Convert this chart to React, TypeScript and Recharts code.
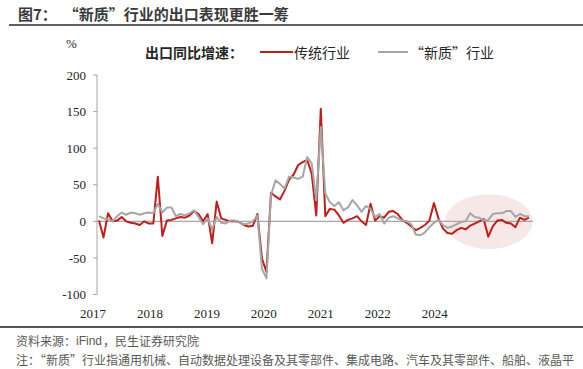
import React from 'react';
import { LineChart, Line, XAxis, YAxis, ReferenceLine, ReferenceArea } from 'recharts';

// 出口同比增速（%），2017-01 起按月
const traditional = [
  1, -22, 11, 0, 1, 6, 0, -2, -3, -5, 0, -3,
  -3, 61, -20, 1, 2, 4, 6, 5, 8, 14, 10, 0,
  10, -30, 27, 4, 2, 0, 0, -1, -5, -7, -6, 10,
  -51, -69, 39, 34, 30, 42, 57, 64, 77, 81, 84, 65,
  8, 154, 7, 17, 16, 8, -2, 2, 4, 7, 0, -5,
  24, 1, 7, 5, 13, 14, 10, 2, -2, -7, -12, -9,
  -5, 1, 25, 4, -10, -16, -17, -12, -9, -11, -6, -3,
  0, 3, -21, -7, 1, 2, -2, -3, -8, 5, 2, 5,
];
const newQuality = [
  7, 4, 3, 0, 7, 12, 9, 12, 11, 9, 11, 12,
  11, 24, 12, 19, 19, 7, 10, 8, 11, 15, 6, -4,
  4, -11, 6, -2, -3, 1, 1, -1, -4, -3, 0, 8,
  -65, -78, 36, 56, 51, 45, 61, 60, 58, 61, 88, 79,
  29, 129, 38, 26, 21, 26, 15, 19, 29, 22, 13, 21,
  17, 6, 10, -3, 5, 7, 4, 1, 0, -4, -18, -19,
  -15, -8, -2, 2, -5, -9, -7, -4, -1, 0, 11, 6,
  5, 1, 2, 10, 11, 11, 14, 14, 6, 10, 7, 7,
];
const yearLabels = ['2017', '2018', '2019', '2020', '2021', '2022', '2024'];
// 年份标签间隔（以月为单位，原图标签等距排列）
const yearLabelStep = 12.58;
const yTicks = [-100, -50, 0, 50, 100, 150, 200];
const seriesNames = ['传统行业', '“新质”行业'];
// 高亮区域（数据坐标）
const highlightX = [76.4, 95.8];
const highlightY = [-38, 37];

const data = traditional.map((v, i) => ({ idx: i, traditional: v, newQuality: newQuality[i] }));
const xTicks = yearLabels.map((_, k) => k * yearLabelStep);

const RED = '#bf1e1b';
const GRAY = '#a6a6a6';
const CJK = '"Noto Sans CJK SC", "Noto Sans", sans-serif';
const SERIF = '"Liberation Serif", "DejaVu Serif", serif';
const LATIN = '"Liberation Sans", Arial, sans-serif';

const Ellipse = (p: any) => (
  <ellipse
    cx={p.x + p.width / 2}
    cy={p.y + p.height / 2}
    rx={Math.abs(p.width) / 2}
    ry={Math.abs(p.height) / 2}
    fill="#f7e8e8"
  />
);

const footStyle: React.CSSProperties = {
  position: 'absolute', fontFamily: CJK, fontSize: 12, lineHeight: '16px', color: '#595959', whiteSpace: 'nowrap',
};

export default function App() {
  return (
    <div style={{ position: 'absolute', left: 0, top: 0, width: 583, height: 369, background: '#fff', overflow: 'hidden' }}>
      <div style={{ position: 'absolute', left: 18, top: 4, fontFamily: CJK, fontSize: 15, lineHeight: '20px', fontWeight: 700, color: '#3a3a3a', whiteSpace: 'nowrap' }}>
        图7：&nbsp;&nbsp;“新质”行业的出口表现更胜一筹
      </div>
      <div style={{ position: 'absolute', left: 9, top: 24, width: 574, height: 2, background: '#5f5f5f' }} />

      <div style={{ position: 'absolute', left: 66, top: 36, fontFamily: SERIF, fontSize: 13, lineHeight: '16px', color: '#262626' }}>%</div>

      <div style={{ position: 'absolute', left: 145, top: 42, fontFamily: CJK, fontSize: 14, lineHeight: '20px', fontWeight: 700, color: '#262626', whiteSpace: 'nowrap' }}>
        出口同比增速：
      </div>
      <div style={{ position: 'absolute', left: 260, top: 51, width: 33, height: 2, background: RED }} />
      <div style={{ position: 'absolute', left: 294, top: 42, fontFamily: CJK, fontSize: 14, lineHeight: '20px', color: '#262626', whiteSpace: 'nowrap' }}>
        {seriesNames[0]}
      </div>
      <div style={{ position: 'absolute', left: 378, top: 51, width: 30, height: 2, background: GRAY }} />
      <div style={{ position: 'absolute', left: 410, top: 42, fontFamily: CJK, fontSize: 14, lineHeight: '20px', color: '#262626', whiteSpace: 'nowrap' }}>
        {seriesNames[1]}
      </div>

      <div style={{ position: 'absolute', left: 0, top: 0 }}>
        <LineChart width={583} height={369} data={data} margin={{ top: 75, right: 50, left: 0, bottom: 44.5 }}>
          <XAxis
            dataKey="idx"
            type="number"
            domain={[0, 95]}
            padding={{ left: 2, right: 4 }}
            ticks={xTicks}
            interval={0}
            tickFormatter={(v: number) => yearLabels[Math.round(v / yearLabelStep)] ?? ''}
            axisLine={false}
            tickLine={false}
            tickSize={6}
            tickMargin={8}
            height={30}
            tick={{ fontFamily: SERIF, fontSize: 13, fill: '#262626', dx: -6 }}
          />
          <YAxis
            type="number"
            domain={[-100, 200]}
            ticks={yTicks}
            interval={0}
            width={97}
            tickSize={4}
            tickMargin={7}
            axisLine={{ stroke: GRAY }}
            tickLine={{ stroke: GRAY }}
            tick={{ fontFamily: SERIF, fontSize: 13, fill: '#262626' }}
          />
          <ReferenceArea
            x1={highlightX[0]}
            x2={highlightX[1]}
            y1={highlightY[0]}
            y2={highlightY[1]}
            ifOverflow="visible"
            shape={Ellipse}
          />
          <ReferenceLine y={0} stroke={GRAY} strokeWidth={1.2} />
          <Line type="linear" dataKey="traditional" name={seriesNames[0]} stroke={RED} strokeWidth={2} dot={false} isAnimationActive={false} strokeLinejoin="round" />
          <Line type="linear" dataKey="newQuality" name={seriesNames[1]} stroke={GRAY} strokeWidth={2} dot={false} isAnimationActive={false} strokeLinejoin="round" />
        </LineChart>
      </div>

      <div style={{ position: 'absolute', left: 0, top: 326, width: 583, height: 1.5, background: '#555' }} />
      <div style={{ ...footStyle, left: 16, top: 333 }}>资料来源：</div>
      <div style={{ ...footStyle, left: 76, top: 333, fontFamily: LATIN }}>iFind</div>
      <div style={{ ...footStyle, left: 103, top: 333 }}>，民生证券研究院</div>
      <div style={{ ...footStyle, left: 16, top: 352 }}>
        注：“新质”行业指通用机械、自动数据处理设备及其零部件、集成电路、汽车及其零部件、船舶、液晶平
      </div>
    </div>
  );
}
